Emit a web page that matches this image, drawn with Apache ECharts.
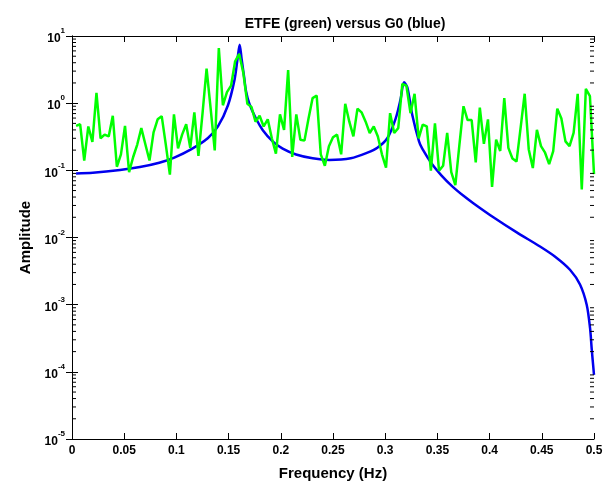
<!DOCTYPE html>
<html>
<head>
<meta charset="utf-8">
<script src="https://cdn.jsdelivr.net/npm/echarts@6/dist/echarts.min.js"></script>
<style>
  * { margin: 0; padding: 0; }
  body { background: #fff; }
</style>
</head>
<body>
<!-- chart container -->
<div id="main" style="width: 614px;height: 486px;"></div>
<script>
// ETFE estimate, one value per frequency bin k/256 (k = 1..128)
var etfeAmp = [
  0.46, 0.485, 0.14, 0.45, 0.265, 1.42, 0.30, 0.34, 0.32, 0.65,
  0.113, 0.173, 0.46, 0.094, 0.158, 0.242, 0.425, 0.242, 0.14, 0.367,
  0.574, 0.64, 0.242, 0.0865, 0.68, 0.212, 0.34, 0.485, 0.216, 0.73,
  0.164, 0.7, 3.26, 0.83, 0.198, 6.6, 0.93, 1.46, 1.82, 4.2,
  5.4, 2.85, 0.98, 0.88, 0.53, 0.65, 0.45, 0.574, 0.30, 0.177,
  0.68, 0.40, 3.1, 0.158, 0.68, 0.286, 0.277, 0.59, 1.19, 1.3,
  0.173, 0.117, 0.229, 0.31, 0.34, 0.173, 0.98, 0.53, 0.32, 0.83,
  0.73, 0.53, 0.36, 0.45, 0.32, 0.173, 0.11, 0.71, 0.36, 0.425,
  1.93, 1.82, 0.71, 1.38, 0.30, 0.48, 0.45, 0.099, 0.5, 0.099,
  0.117, 0.36, 0.094, 0.06, 0.242, 0.9, 0.56, 0.56, 0.131, 0.86,
  0.248, 0.574, 0.0565, 0.286, 0.194, 1.19, 0.216, 0.15, 0.135, 0.43,
  1.38, 0.205, 0.108, 0.4, 0.229, 0.183, 0.124, 0.194, 0.83, 0.59,
  0.27, 0.229, 0.36, 1.38, 0.052, 1.63, 1.27, 0.088
];
var etfeFreq = etfeAmp.map(function (v, i) { return (i + 1) / 256; });

// true system G0
var g0Freq = [
  0.0039, 0.02, 0.046, 0.065, 0.0836, 0.098, 0.114, 0.130, 0.1398, 0.1494,
  0.1558, 0.1585, 0.1606, 0.1625, 0.1648, 0.1667, 0.1699, 0.1762, 0.1826, 0.1922,
  0.2018, 0.2146, 0.2305, 0.2465, 0.267, 0.283, 0.2925, 0.302, 0.310, 0.3148,
  0.318, 0.3212, 0.326, 0.3324, 0.3355, 0.3448, 0.354, 0.364, 0.375, 0.3844,
  0.4036, 0.426, 0.4483, 0.464, 0.477, 0.4866, 0.493, 0.4962, 0.4978, 0.5
];
var g0Amp = [
  0.090, 0.092, 0.101, 0.112, 0.130, 0.155, 0.205, 0.30, 0.45, 0.93,
  2.28, 4.5, 7.4, 4.5, 2.5, 1.5, 0.98, 0.59, 0.40, 0.27,
  0.21, 0.172, 0.151, 0.143, 0.151, 0.183, 0.217, 0.30, 0.59, 1.16,
  2.04, 1.72, 0.66, 0.27, 0.21, 0.124, 0.0836, 0.0582, 0.0417, 0.0324,
  0.0200, 0.0119, 0.00733, 0.00501, 0.00331, 0.0020, 0.0010, 0.00045, 0.00022, 0.00009
];

// log-axis minor tick positions (2..9 x 10^n)
var minorTicks = [];
[-5, -4, -3, -2, -1, 0].forEach(function (n) {
  for (var m = 2; m <= 9; m++) minorTicks.push(m * Math.pow(10, n));
});

var font = 'Liberation Sans, Arial, Helvetica, sans-serif';

function zip(xs, ys) {
  return xs.map(function (x, i) { return [x, ys[i]]; });
}

var chart = echarts.init(document.getElementById('main'));
chart.setOption({
  animation: false,
  textStyle: { fontFamily: font },
  title: {
    text: 'ETFE (green) versus G0 (blue)',
    left: 340,
    top: 12,
    textAlign: 'center',
    textStyle: { fontSize: 14, fontWeight: 'bold', color: '#000', fontFamily: font }
  },
  grid: { left: 72, right: 20, top: 36, bottom: 39 },
  xAxis: [
    {
      type: 'value',
      min: 0,
      max: 0.5,
      interval: 0.05,
      name: 'Frequency (Hz)',
      nameLocation: 'middle',
      nameGap: 27,
      nameTextStyle: { fontSize: 15, fontWeight: 'bold', color: '#000' },
      axisLine: { lineStyle: { color: '#000', width: 1 } },
      axisTick: { inside: true, length: 6, lineStyle: { color: '#000' } },
      axisLabel: { color: '#000', fontSize: 12, fontWeight: 'bold', margin: 6,
        formatter: function (v) { return String(parseFloat(v.toFixed(2))); } },
      splitLine: { show: false }
    },
    {
      type: 'value',
      position: 'top',
      min: 0,
      max: 0.5,
      interval: 0.05,
      axisLine: { lineStyle: { color: '#000', width: 1 } },
      axisTick: { inside: true, length: 6, lineStyle: { color: '#000' } },
      axisLabel: { show: false },
      splitLine: { show: false }
    }
  ],
  yAxis: [
    {
      type: 'log',
      logBase: 10,
      min: 1e-5,
      max: 10,
      name: 'Amplitude',
      nameLocation: 'middle',
      nameGap: 33,
      nameTextStyle: { fontSize: 15, fontWeight: 'bold', color: '#000' },
      axisLine: { lineStyle: { color: '#000', width: 1 } },
      axisTick: { inside: true, length: 6, lineStyle: { color: '#000' } },
      axisLabel: {
        margin: 7,
        formatter: function (v) {
          var e = Math.round(Math.log10(v));
          return '{b|10}{e|' + e + '}';
        },
        rich: {
          b: { fontSize: 12, fontWeight: 'bold', color: '#000', lineHeight: 18, verticalAlign: 'bottom' },
          e: { fontSize: 8, fontWeight: 'bold', color: '#000', lineHeight: 18, verticalAlign: 'top' }
        }
      },
      splitLine: { show: false }
    },
    {
      type: 'log',
      logBase: 10,
      min: 1e-5,
      max: 10,
      position: 'right',
      axisLine: { lineStyle: { color: '#000', width: 1 } },
      axisTick: { inside: true, length: 6, lineStyle: { color: '#000' } },
      axisLabel: { show: false },
      splitLine: { show: false }
    }
  ],
  series: [
    {
      // minor ticks on both y edges
      type: 'custom',
      silent: true,
      xAxisIndex: 0,
      yAxisIndex: 0,
      data: minorTicks.map(function (v) { return [0, v]; }),
      renderItem: function (params, api) {
        var l = api.coord([0, api.value(1)]);
        var r = api.coord([0.5, api.value(1)]);
        var st = { stroke: '#000', lineWidth: 1 };
        return {
          type: 'group',
          children: [
            { type: 'line', shape: { x1: l[0], y1: l[1], x2: l[0] + 4, y2: l[1] }, style: st },
            { type: 'line', shape: { x1: r[0], y1: r[1], x2: r[0] - 4, y2: r[1] }, style: st }
          ]
        };
      },
      z: 5
    },
    {
      name: 'G0',
      type: 'line',
      data: zip(g0Freq, g0Amp),
      showSymbol: false,
      smooth: 0.3,
      lineStyle: { color: '#0000ee', width: 2.5 },
      z: 2
    },
    {
      name: 'ETFE',
      type: 'line',
      data: zip(etfeFreq, etfeAmp),
      showSymbol: false,
      lineStyle: { color: '#00ff00', width: 2.5 },
      z: 3
    }
  ]
});
</script>
</body>
</html>
